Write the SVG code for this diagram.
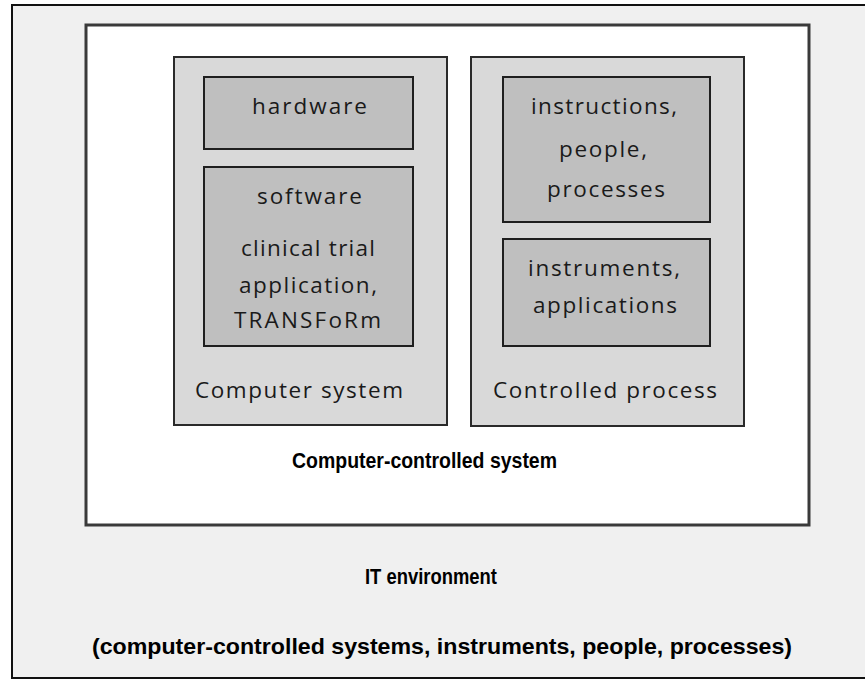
<svg xmlns="http://www.w3.org/2000/svg" width="865" height="679" viewBox="0 0 865 679">
<style>
.env{fill:#f0f0f0;stroke:#111;stroke-width:2}
.ccs{fill:#fff;stroke:#3a3a3a;stroke-width:3}
.sys{fill:#d9d9d9;stroke:#2a2a2a;stroke-width:2}
.sub{fill:#bfbfbf;stroke:#1f1f1f;stroke-width:2}
.t{font-family:"Open Sans","Liberation Sans",sans-serif;font-size:22.5px;fill:#1a1a1a;text-anchor:middle}
.b{font-family:"Liberation Sans",Arial,sans-serif;font-size:22px;font-weight:bold;fill:#000;text-anchor:middle}
</style>
<g id="it-environment">
<rect class="env" x="12" y="5" width="870" height="673"/>
<text class="b" x="431" y="584" textLength="132" lengthAdjust="spacingAndGlyphs">IT environment</text>
<text class="b" x="442" y="654" textLength="700" lengthAdjust="spacingAndGlyphs">(computer-controlled systems, instruments, people, processes)</text>
</g>
<g id="computer-controlled-system">
<rect class="ccs" x="86" y="25" width="723" height="500"/>
<text class="b" x="424.5" y="468" textLength="265" lengthAdjust="spacingAndGlyphs">Computer-controlled system</text>
</g>
<g id="computer-system">
<rect class="sys" x="174" y="57" width="273" height="368"/>
<text class="t" x="299" y="398" textLength="208" lengthAdjust="spacing">Computer system</text>
</g>
<g id="hardware">
<rect class="sub" x="204" y="77" width="209" height="72"/>
<text class="t" x="309.5" y="114" textLength="115" lengthAdjust="spacing">hardware</text>
</g>
<g id="software">
<rect class="sub" x="204" y="167" width="209" height="179"/>
<text class="t" x="309.5" y="204" textLength="105" lengthAdjust="spacing">software</text>
<text class="t" x="308" y="256" textLength="134" lengthAdjust="spacing">clinical trial</text>
<text class="t" x="308" y="293" textLength="138" lengthAdjust="spacing">application,</text>
<text class="t" x="307.5" y="328" textLength="147" lengthAdjust="spacing">TRANSFoRm</text>
</g>
<g id="controlled-process">
<rect class="sys" x="471" y="57" width="273" height="369"/>
<text class="t" x="605" y="398" textLength="224" lengthAdjust="spacing">Controlled process</text>
</g>
<g id="instructions">
<rect class="sub" x="503" y="77" width="207" height="145"/>
<text class="t" x="604" y="114" textLength="146" lengthAdjust="spacing">instructions,</text>
<text class="t" x="603" y="157" textLength="88" lengthAdjust="spacing">people,</text>
<text class="t" x="606" y="197" textLength="118" lengthAdjust="spacing">processes</text>
</g>
<g id="instruments">
<rect class="sub" x="503" y="239" width="207" height="107"/>
<text class="t" x="604" y="276" textLength="152" lengthAdjust="spacing">instruments,</text>
<text class="t" x="605" y="313" textLength="144" lengthAdjust="spacing">applications</text>
</g>
<g id="connectors"/>
</svg>
